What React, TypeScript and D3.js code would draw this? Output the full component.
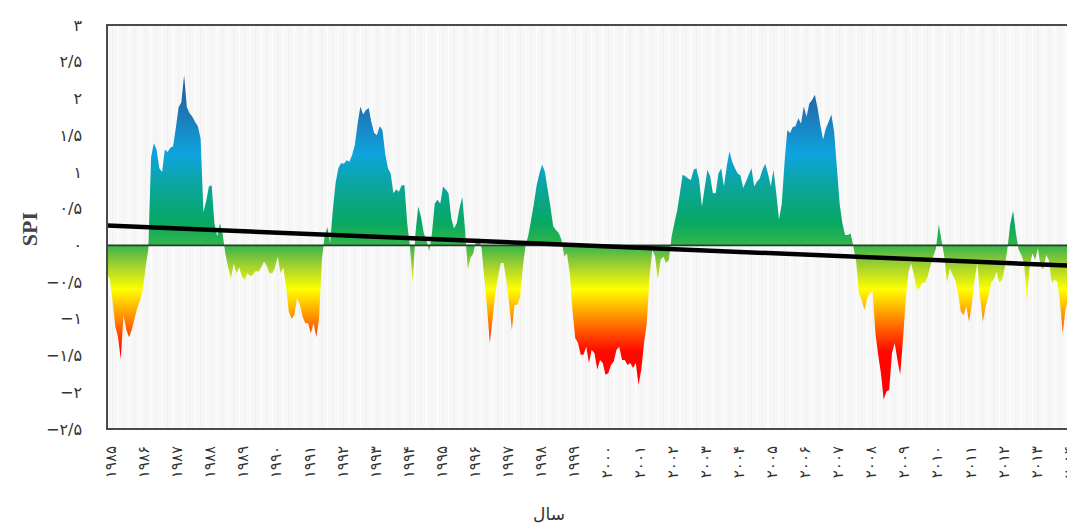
import React from "react";
import * as d3 from "d3";

// Monthly SPI values starting January 1985
const spi1985to1992: number[] = [
  -0.38, -0.45, -0.75, -1.1, -1.25, -1.55, -0.95, -1.15, -1.25, -1.15, -1.0, -0.85,
  -0.75, -0.6, -0.3, -0.05, 1.2, 1.39, 1.3, 1.05, 1.0, 1.3, 1.27, 1.33,
  1.35, 1.6, 1.88, 1.95, 2.32, 1.88, 1.8, 1.75, 1.68, 1.62, 1.45, 0.45,
  0.6, 0.8, 0.82, 0.3, 0.12, 0.3, 0.15, -0.12, -0.3, -0.45, -0.25, -0.38,
  -0.3, -0.42, -0.47, -0.38, -0.42, -0.4, -0.35, -0.36, -0.3, -0.22, -0.28, -0.38,
  -0.38, -0.3, -0.15, -0.38, -0.3, -0.55, -0.9, -1.0, -0.95, -0.72, -0.8, -0.97,
  -1.06, -1.06, -1.2, -1.06, -1.25, -1.0, -0.2, 0.12, 0.25, 0.03, 0.48, 0.85,
  1.05, 1.12, 1.11, 1.16, 1.14, 1.23, 1.37, 1.66, 1.89, 1.78, 1.84, 1.87,
];
const spi1993to2000: number[] = [
  1.68, 1.53, 1.5, 1.62, 1.57, 1.25, 1.05, 0.98, 0.71, 0.76, 0.73, 0.82,
  0.82, 0.3, -0.02, -0.51, 0.17, 0.53, 0.39, 0.17, 0.07, -0.08, 0.17, 0.57,
  0.62, 0.57, 0.8, 0.76, 0.71, 0.37, 0.23, 0.3, 0.51, 0.66, 0.21, -0.33,
  -0.17, -0.11, 0.07, 0.1, -0.04, -0.45, -0.85, -1.33, -1.0, -0.65, -0.42, -0.24,
  -0.24, -0.47, -0.79, -1.15, -0.81, -0.81, -0.7, -0.29, 0.0, 0.14, 0.35, 0.57,
  0.82, 0.98, 1.1, 1.0, 0.76, 0.53, 0.26, 0.21, 0.17, 0.08, -0.15, -0.11,
  -0.38, -0.88, -1.26, -1.33, -1.49, -1.49, -1.38, -1.6, -1.42, -1.47, -1.69, -1.56,
  -1.6, -1.76, -1.74, -1.63, -1.58, -1.42, -1.38, -1.56, -1.56, -1.63, -1.6, -1.67,
];
const spi2001to2007: number[] = [
  -1.6, -1.9, -1.69, -1.33, -1.06, -0.42, -0.06, -0.15, -0.47, -0.2, -0.15, -0.24,
  -0.2, 0.12, 0.3, 0.47, 0.71, 0.96, 0.94, 0.91, 0.89, 1.03, 1.05, 0.89,
  0.53, 0.78, 1.03, 0.94, 0.71, 0.71, 0.98, 1.05, 0.8, 1.07, 1.28, 1.14,
  1.05, 0.98, 0.95, 0.78, 0.87, 0.96, 1.05, 0.8, 0.87, 0.91, 1.03, 1.11,
  0.98, 0.8, 1.03, 0.71, 0.35, 0.57, 1.12, 1.57, 1.53, 1.61, 1.62, 1.73,
  1.66, 1.89, 1.75, 1.93, 1.98, 2.05, 1.87, 1.64, 1.44, 1.59, 1.68, 1.78,
  1.55, 1.07, 0.57, 0.3, 0.14, 0.14, 0.16, -0.02, -0.22, -0.65, -0.74, -0.88,
];
const spi2008to2014: number[] = [
  -0.72, -0.65, -0.63, -1.2, -1.49, -1.74, -2.1, -1.99, -1.97, -1.47, -1.33, -1.56,
  -1.76, -1.29, -0.74, -0.36, -0.25, -0.4, -0.6, -0.58, -0.51, -0.51, -0.42, -0.27,
  -0.15, -0.04, 0.28, 0.07, -0.15, -0.51, -0.31, -0.4, -0.47, -0.65, -0.9, -0.95,
  -0.83, -1.04, -0.81, -0.47, -0.24, -0.7, -1.04, -0.84, -0.7, -0.51, -0.46, -0.36,
  -0.51, -0.47, -0.29, -0.02, 0.3, 0.47, 0.17, -0.06, -0.13, -0.24, -0.74, -0.29,
  -0.11, -0.2, -0.04, -0.29, -0.33, -0.13, -0.2, -0.51, -0.47, -0.49, -0.76, -1.2,
  -0.88, -0.74, -0.7,
];

const startYear = 1985;
const yearTicks: number[] = d3.range(1985, 2015);
const spiTicks: number[] = [3, 2.5, 2, 1.5, 1, 0.5, 0, -0.5, -1, -1.5, -2, -2.5];

// linear trend line (month index -> SPI)
const trendMonths: number[] = [0, 352];
const trendValues: number[] = [0.27, -0.28];

const gradientStops: [number, string][] = [
  [2.35, "#1d5a96"],
  [1.9, "#1f70ae"],
  [1.25, "#0ea3df"],
  [0.75, "#0aa596"],
  [0.3, "#08a862"],
  [0.0, "#35b54a"],
  [-0.25, "#9acd32"],
  [-0.6, "#ffff00"],
  [-0.92, "#ffa000"],
  [-1.2, "#ff4d00"],
  [-1.45, "#ff0800"],
  [-2.1, "#ff0000"],
];

const persianDigits = "۰۱۲۳۴۵۶۷۸۹";
const toPersian = (s: string) => s.replace(/[0-9]/g, (c) => persianDigits[+c]);
const fmtTick = (v: number) => {
  const s = toPersian(String(Math.abs(v))).replace(".", "/");
  return v < 0 ? "−" + s : s;
};

const W = 1067;
const H = 525;
const left = 107;
const top = 25;
const bottom = 429;
const pxPerYear = 33.05;

export default function App() {
  const values = [...spi1985to1992, ...spi1993to2000, ...spi2001to2007, ...spi2008to2014];
  const x = d3.scaleLinear().domain([startYear, startYear + 30]).range([left, left + 30 * pxPerYear]);
  const y = d3.scaleLinear().domain([-2.5, 3]).range([bottom, top]);
  const tOf = (m: number) => startYear + m / 12;

  const area = d3
    .area<number>()
    .x((_, i) => x(tOf(i)))
    .y0(y(0))
    .y1((d) => y(d))
    .curve(d3.curveLinear);

  const trend = d3
    .line<number>()
    .x((_, i) => x(tOf(trendMonths[i])))
    .y((d) => y(d));

  const gy1 = y(2.35);
  const gy2 = y(-2.1);
  const right = x(startYear + 30);
  const stripeMonths = d3.range(0, 360, 2);

  return (
    <svg
      width={W}
      height={H}
      style={{ position: "absolute", left: 0, top: 0, background: "#ffffff" }}
    >
      <defs>
        <linearGradient id="spiGrad" gradientUnits="userSpaceOnUse" x1={0} x2={0} y1={gy1} y2={gy2}>
          {gradientStops.map(([v, c], i) => (
            <stop key={i} offset={(y(v) - gy1) / (gy2 - gy1)} stopColor={c} />
          ))}
        </linearGradient>
        <clipPath id="plotClip">
          <rect x={left} y={top} width={right - left} height={bottom - top} />
        </clipPath>
      </defs>

      <rect x={left} y={top} width={right - left} height={bottom - top} fill="#f7f7f7" />
      <g clipPath="url(#plotClip)">
        {stripeMonths.map((m) => (
          <line
            key={m}
            x1={x(tOf(m))}
            x2={x(tOf(m))}
            y1={top}
            y2={bottom}
            stroke={m % 4 === 0 ? "#ffffff" : "#f0f0f0"}
            strokeWidth={1}
          />
        ))}
        <path d={area(values) ?? ""} fill="url(#spiGrad)" />
        <line x1={left} x2={right} y1={y(0)} y2={y(0)} stroke="#2b3a2b" strokeWidth={1.6} />
        <path d={trend(trendValues) ?? ""} fill="none" stroke="#000" strokeWidth={4.5} />
      </g>
      <rect
        x={left}
        y={top}
        width={right - left}
        height={bottom - top}
        fill="none"
        stroke="#4a4a4a"
        strokeWidth={2}
      />

      {spiTicks.map((v) => (
        <text
          key={v}
          x={82}
          y={y(v)}
          dy="0.35em"
          textAnchor="end"
          fontFamily="DejaVu Sans"
          fontSize={16}
          letterSpacing={2}
          fill="#333"
        >
          {fmtTick(v)}
        </text>
      ))}

      {yearTicks.map((yr) => (
        <text
          key={yr}
          transform={`translate(${x(yr + 0.12)},${446}) rotate(-90)`}
          dy="0.35em"
          textAnchor="end"
          fontFamily="DejaVu Sans"
          fontSize={15}
          letterSpacing={2}
          fill="#333"
        >
          {toPersian(String(yr))}
        </text>
      ))}

      <text
        transform={`translate(29,${(top + bottom) / 2 + 2}) rotate(-90)`}
        textAnchor="middle"
        dy="0.35em"
        fontFamily="Liberation Serif"
        fontWeight="bold"
        fontSize={22}
        fill="#444"
      >
        SPI
      </text>
      <text
        x={549}
        y={520}
        textAnchor="middle"
        fontFamily="DejaVu Sans"
        fontSize={17}
        fill="#333"
      >
        سال
      </text>
    </svg>
  );
}
